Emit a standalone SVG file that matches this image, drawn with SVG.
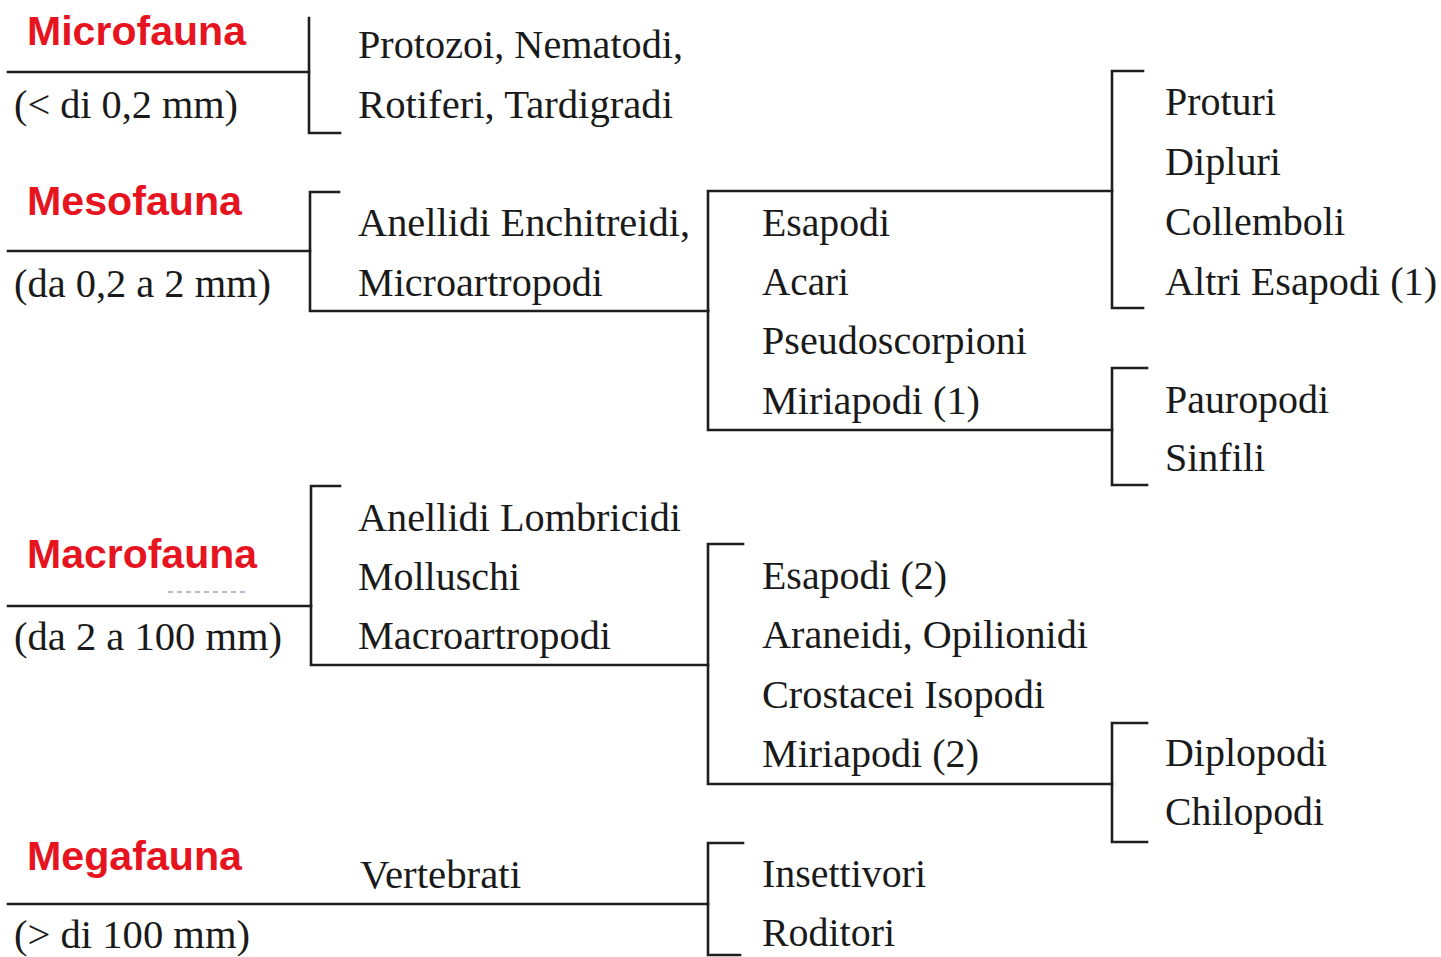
<svg xmlns="http://www.w3.org/2000/svg" width="1441" height="957" viewBox="0 0 1441 957">
<style>
.bg{fill:#ffffff}
.ln{fill:none;stroke:#1e1e1e;stroke-width:2.6;stroke-linecap:square;stroke-linejoin:miter}
.hd{font-family:"Liberation Sans",Arial,sans-serif;font-size:41px;font-weight:bold;fill:#e5141f}
.tx{font-family:"Liberation Serif","Times New Roman",serif;font-size:40px;fill:#1a1a1a}
.art{fill:none;stroke:#9aa4b8;stroke-width:1.5;stroke-dasharray:5 4}
</style>
<rect class="bg" x="0" y="0" width="1441" height="957"/>
<g id="connectors">
<path class="ln" d="M 8 72 H 309"/>
<path class="ln" d="M 309 18 V 133 H 340"/>
<path class="ln" d="M 8 251 H 310"/>
<path class="ln" d="M 339 192 H 310 V 311 H 708"/>
<path class="ln" d="M 708 311 V 191 H 1112"/>
<path class="ln" d="M 708 311 V 430 H 1112"/>
<path class="ln" d="M 1143 71 H 1112 V 308 H 1143"/>
<path class="ln" d="M 1147 368 H 1112 V 485 H 1147"/>
<path class="ln" d="M 8 606 H 311"/>
<path class="ln" d="M 340 486 H 311 V 665 H 708"/>
<path class="ln" d="M 743 544 H 708 V 784 H 1112"/>
<path class="ln" d="M 1147 723 H 1112 V 842 H 1147"/>
<path class="ln" d="M 8 904 H 708"/>
<path class="ln" d="M 743 843 H 708 V 955 H 740"/>
<path class="art" d="M 168 592 H 246"/>
</g>
<g id="microfauna">
<text class="hd" x="27" y="45" textLength="219" lengthAdjust="spacingAndGlyphs">Microfauna</text>
<text class="tx" x="14" y="118" textLength="224" lengthAdjust="spacingAndGlyphs">(&lt; di 0,2 mm)</text>
</g>
<g id="micro-taxa">
<text class="tx" x="358" y="58" textLength="325" lengthAdjust="spacingAndGlyphs">Protozoi, Nematodi,</text>
<text class="tx" x="358" y="118" textLength="315" lengthAdjust="spacingAndGlyphs">Rotiferi, Tardigradi</text>
</g>
<g id="mesofauna">
<text class="hd" x="27" y="215" textLength="215" lengthAdjust="spacingAndGlyphs">Mesofauna</text>
<text class="tx" x="14" y="297" textLength="257" lengthAdjust="spacingAndGlyphs">(da 0,2 a 2 mm)</text>
</g>
<g id="meso-taxa">
<text class="tx" x="358" y="236" textLength="332" lengthAdjust="spacingAndGlyphs">Anellidi Enchitreidi,</text>
<text class="tx" x="358" y="296" textLength="245" lengthAdjust="spacingAndGlyphs">Microartropodi</text>
</g>
<g id="microartropodi">
<text class="tx" x="762" y="236" textLength="128" lengthAdjust="spacingAndGlyphs">Esapodi</text>
<text class="tx" x="762" y="295" textLength="87" lengthAdjust="spacingAndGlyphs">Acari</text>
<text class="tx" x="762" y="354" textLength="265" lengthAdjust="spacingAndGlyphs">Pseudoscorpioni</text>
<text class="tx" x="762" y="414" textLength="218" lengthAdjust="spacingAndGlyphs">Miriapodi (1)</text>
</g>
<g id="esapodi">
<text class="tx" x="1165" y="115" textLength="111" lengthAdjust="spacingAndGlyphs">Proturi</text>
<text class="tx" x="1165" y="175" textLength="116" lengthAdjust="spacingAndGlyphs">Dipluri</text>
<text class="tx" x="1165" y="235" textLength="180" lengthAdjust="spacingAndGlyphs">Collemboli</text>
<text class="tx" x="1165" y="295" textLength="272" lengthAdjust="spacingAndGlyphs">Altri Esapodi (1)</text>
</g>
<g id="miriapodi-1">
<text class="tx" x="1165" y="413" textLength="164" lengthAdjust="spacingAndGlyphs">Pauropodi</text>
<text class="tx" x="1165" y="471" textLength="100" lengthAdjust="spacingAndGlyphs">Sinfili</text>
</g>
<g id="macrofauna">
<text class="hd" x="27" y="568" textLength="230" lengthAdjust="spacingAndGlyphs">Macrofauna</text>
<text class="tx" x="14" y="650" textLength="268" lengthAdjust="spacingAndGlyphs">(da 2 a 100 mm)</text>
</g>
<g id="macro-taxa">
<text class="tx" x="358" y="531" textLength="323" lengthAdjust="spacingAndGlyphs">Anellidi Lombricidi</text>
<text class="tx" x="358" y="590" textLength="162" lengthAdjust="spacingAndGlyphs">Molluschi</text>
<text class="tx" x="358" y="649" textLength="253" lengthAdjust="spacingAndGlyphs">Macroartropodi</text>
</g>
<g id="macroartropodi">
<text class="tx" x="762" y="589" textLength="185" lengthAdjust="spacingAndGlyphs">Esapodi (2)</text>
<text class="tx" x="762" y="648" textLength="326" lengthAdjust="spacingAndGlyphs">Araneidi, Opilionidi</text>
<text class="tx" x="762" y="708" textLength="283" lengthAdjust="spacingAndGlyphs">Crostacei Isopodi</text>
<text class="tx" x="762" y="767" textLength="217" lengthAdjust="spacingAndGlyphs">Miriapodi (2)</text>
</g>
<g id="miriapodi-2">
<text class="tx" x="1165" y="766" textLength="162" lengthAdjust="spacingAndGlyphs">Diplopodi</text>
<text class="tx" x="1165" y="825" textLength="159" lengthAdjust="spacingAndGlyphs">Chilopodi</text>
</g>
<g id="megafauna">
<text class="hd" x="27" y="870" textLength="215" lengthAdjust="spacingAndGlyphs">Megafauna</text>
<text class="tx" x="14" y="948" textLength="236" lengthAdjust="spacingAndGlyphs">(&gt; di 100 mm)</text>
</g>
<g id="mega-taxa">
<text class="tx" x="360" y="888" textLength="161" lengthAdjust="spacingAndGlyphs">Vertebrati</text>
</g>
<g id="vertebrati">
<text class="tx" x="762" y="887" textLength="164" lengthAdjust="spacingAndGlyphs">Insettivori</text>
<text class="tx" x="762" y="946" textLength="133" lengthAdjust="spacingAndGlyphs">Roditori</text>
</g>
</svg>
